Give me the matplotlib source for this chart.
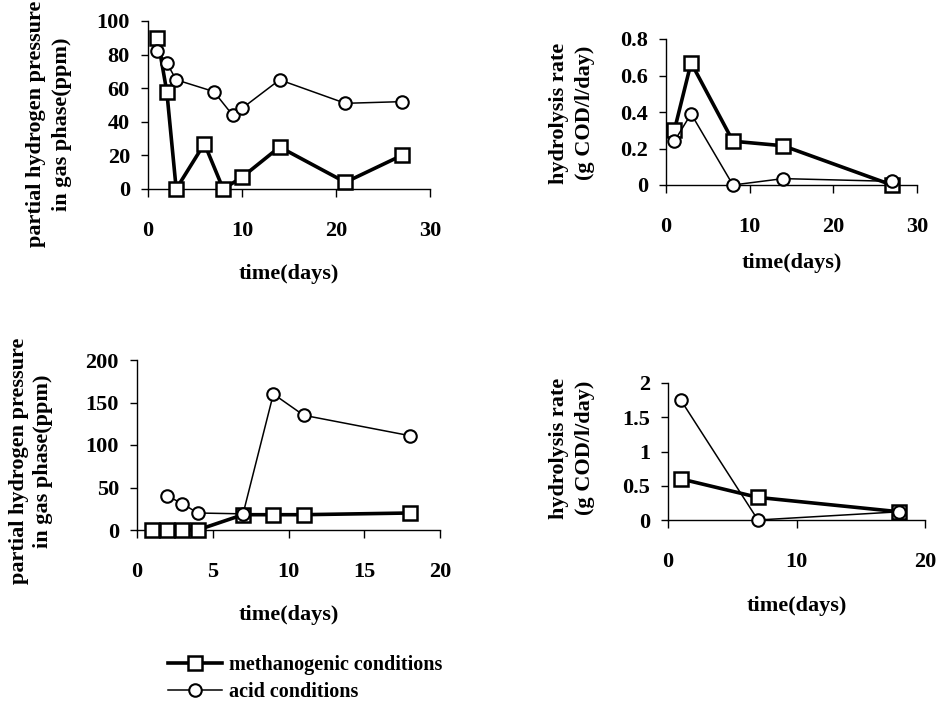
import matplotlib
matplotlib.use("Agg")
import matplotlib.pyplot as plt
from matplotlib import transforms

plt.rcParams['font.family'] = ['Liberation Serif', 'DejaVu Serif']
plt.rcParams['font.weight'] = 'bold'
FS = 16

# top left: hydrogen pressure, experiment 1
tl_meth_days = [1, 2, 3, 6, 8, 10, 14, 21, 27]
tl_meth_ppm = [90, 58, 0, 27, 0, 7, 25, 4, 20]
tl_acid_days = [1, 2, 3, 7, 9, 10, 14, 21, 27]
tl_acid_ppm = [82, 75, 65, 58, 44, 48, 65, 51, 52]

# top right: hydrolysis rate, experiment 1
tr_days = [1, 3, 8, 14, 27]
tr_meth_rate = [0.30, 0.67, 0.24, 0.215, 0.0]
tr_acid_rate = [0.24, 0.39, 0.0, 0.035, 0.02]

# bottom left: hydrogen pressure, experiment 2
bl_meth_days = [1, 2, 3, 4, 7, 9, 11, 18]
bl_meth_ppm = [0, 0, 0, 0, 18, 18, 18, 20]
bl_acid_days = [2, 3, 4, 7, 9, 11, 18]
bl_acid_ppm = [40, 31, 20, 19, 160, 135, 111]

# bottom right: hydrolysis rate, experiment 2
br_days = [1, 7, 18]
br_meth_rate = [0.60, 0.33, 0.12]
br_acid_rate = [1.75, 0.0, 0.12]

W, H = 944, 707
fig = plt.figure(figsize=(W / 100, H / 100), dpi=100)


def px_axes(l, r, t, b):
    return fig.add_axes([l / W, 1 - b / H, (r - l) / W, (b - t) / H])


def style(ax, xmax, xticks, ymax, yticks, ylabels):
    ax.set_xlim(0, xmax)
    ax.set_ylim(0, ymax)
    ax.set_xticks(xticks)
    ax.set_yticks(yticks)
    ax.set_yticklabels(ylabels)
    for s in ['top', 'right']:
        ax.spines[s].set_visible(False)
    for s in ['left', 'bottom']:
        ax.spines[s].set_linewidth(1.0)
    ax.tick_params(axis='x', direction='out', length=6, width=1, pad=17, labelsize=FS)
    ax.tick_params(axis='y', direction='out', length=5, width=1, pad=8, labelsize=FS)
    for lab in ax.get_xticklabels() + ax.get_yticklabels():
        lab.set_fontweight('bold')
    ax.set_xlabel('time(days)', fontsize=FS, fontweight='bold')


def xlabel_at(ax, ypx):
    tr = transforms.blended_transform_factory(ax.transAxes, fig.transFigure)
    ax.xaxis.set_label_coords(0.5, 1 - ypx / H, transform=tr)
    ax.xaxis.label.set_va('center')


def ylabel_at(text, xpx, ypx, spacing):
    fig.text(xpx / W, 1 - ypx / H, text, rotation=90, ha='center', va='center',
             fontsize=FS, fontweight='bold', multialignment='center',
             linespacing=spacing)


def draw(ax, mx, my, axx, ay):
    m, = ax.plot(mx, my, color='black', lw=2.6, marker='s', ms=9.5,
                 mfc='white', mec='black', mew=1.8, clip_on=False, zorder=3)
    a, = ax.plot(axx, ay, color='black', lw=1.1, marker='o', ms=9,
                 mfc='white', mec='black', mew=1.5, clip_on=False, zorder=4)
    return m, a


ax1 = px_axes(148, 430, 21, 189)
h_m, h_a = draw(ax1, tl_meth_days, tl_meth_ppm, tl_acid_days, tl_acid_ppm)
style(ax1, 30, [0, 10, 20, 30], 100, [0, 20, 40, 60, 80, 100],
      ['0', '20', '40', '60', '80', '100'])
xlabel_at(ax1, 274)

ax2 = px_axes(666, 917, 39, 185)
draw(ax2, tr_days, tr_meth_rate, tr_days, tr_acid_rate)
style(ax2, 30, [0, 10, 20, 30], 0.8, [0, 0.2, 0.4, 0.6, 0.8],
      ['0', '0.2', '0.4', '0.6', '0.8'])
xlabel_at(ax2, 263)

ax3 = px_axes(137, 440, 360, 530)
draw(ax3, bl_meth_days, bl_meth_ppm, bl_acid_days, bl_acid_ppm)
style(ax3, 20, [0, 5, 10, 15, 20], 200, [0, 50, 100, 150, 200],
      ['0', '50', '100', '150', '200'])
xlabel_at(ax3, 615)

ax4 = px_axes(668, 925, 383, 520)
draw(ax4, br_days, br_meth_rate, br_days, br_acid_rate)
style(ax4, 20, [0, 10, 20], 2, [0, 0.5, 1, 1.5, 2],
      ['0', '0.5', '1', '1.5', '2'])
xlabel_at(ax4, 606)

ylabel_at('partial hydrogen pressure\nin gas phase(ppm)', 49, 124, 1.45)
ylabel_at('hydrolysis rate\n(g COD/l/day)', 572, 113, 1.45)
ylabel_at('partial hydrogen pressure\nin gas phase(ppm)', 31, 461, 1.3)
ylabel_at('hydrolysis rate\n(g COD/l/day)', 572, 448, 1.45)

fig.legend([h_m, h_a], ['methanogenic conditions', 'acid conditions'],
           loc='upper left', bbox_to_anchor=(168 / W, 1 - 655 / H),
           frameon=False, handlelength=2.7, handletextpad=0.35,
           labelspacing=0.35, borderpad=0, borderaxespad=0,
           prop={'family': 'Liberation Serif', 'weight': 'bold', 'size': 14.5})

fig.savefig('out.png', dpi=100)
